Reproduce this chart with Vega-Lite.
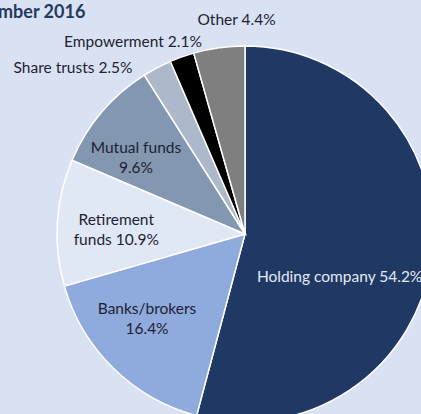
{
  "$schema": "https://vega.github.io/schema/vega-lite/v6.json",
  "width": 490,
  "height": 468,
  "autosize": {"type": "none"},
  "padding": 0,
  "background": "#d9e2f2",
  "config": {"view": {"stroke": null}, "font": "Lato"},
  "title": {"text": "mber 2016", "anchor": "start", "orient": "top", "frame": "group", "offset": 0, "dy": 36, "dx": -2, "baseline": "alphabetic", "font": "Lato", "fontSize": 18, "fontWeight": "bold", "color": "#23395f"},
  "data": {"values": [
    {"category": "Holding company", "value": 54.2, "rank": 1, "label": "Holding company 54.2%"},
    {"category": "Banks/brokers", "value": 16.4, "rank": 2, "label": "Banks/brokers\n16.4%"},
    {"category": "Retirement funds", "value": 10.9, "rank": 3, "label": "Retirement\nfunds 10.9%"},
    {"category": "Mutual funds", "value": 9.6, "rank": 4, "label": "Mutual funds\n9.6%"},
    {"category": "Share trusts", "value": 2.5, "rank": 5, "label": "Share trusts 2.5%"},
    {"category": "Empowerment", "value": 2.1, "rank": 6, "label": "Empowerment 2.1%"},
    {"category": "Other", "value": 4.4, "rank": 7, "label": "Other 4.4%"}
  ]},
  "encoding": {
    "theta": {"field": "value", "type": "quantitative", "stack": true},
    "order": {"field": "rank", "type": "quantitative"}
  },
  "layer": [
    {
      "mark": {"type": "arc", "outerRadius": 188, "stroke": "#ffffff", "strokeWidth": 1.5},
      "encoding": {
        "color": {"field": "category", "type": "nominal", "legend": null,
          "scale": {"domain": ["Holding company", "Banks/brokers", "Retirement funds", "Mutual funds", "Share trusts", "Empowerment", "Other"],
                    "range": ["#1f3864", "#8faadc", "#e1e8f5", "#8497b0", "#adb9ca", "#000000", "#7f7f7f"]}}
      }
    },
    {
      "mark": {"type": "text", "radius": 130, "fontSize": 15.5, "lineBreak": "\n", "lineHeight": 20, "color": "#1e2233", "align": "center", "baseline": "middle", "dx": -7, "dy": -18},
      "encoding": {"text": {"condition": {"test": "datum.rank == 2", "field": "label"}, "value": ""}}
    },
    {
      "mark": {"type": "text", "radius": 130, "fontSize": 15.5, "lineBreak": "\n", "lineHeight": 20, "color": "#1e2233", "align": "center", "baseline": "middle", "dx": 1, "dy": -6},
      "encoding": {"text": {"condition": {"test": "datum.rank == 3", "field": "label"}, "value": ""}}
    },
    {
      "mark": {"type": "text", "radius": 130, "fontSize": 15.5, "lineBreak": "\n", "lineHeight": 20, "color": "#1e2233", "align": "center", "baseline": "middle", "dx": -10, "dy": -2},
      "encoding": {"text": {"condition": {"test": "datum.rank == 4", "field": "label"}, "value": ""}}
    },
    {
      "mark": {"type": "text", "radius": 12, "fontSize": 15.5, "color": "#e4eaf4", "align": "left", "baseline": "middle", "dy": 41},
      "encoding": {"text": {"condition": {"test": "datum.rank == 1", "field": "label"}, "value": ""}}
    },
    {
      "mark": {"type": "text", "radius": 214, "fontSize": 15.5, "color": "#1e2233", "align": "center", "baseline": "middle", "dx": 21, "dy": -2},
      "encoding": {"text": {"condition": {"test": "datum.rank == 7", "field": "label"}, "value": ""}}
    },
    {
      "mark": {"type": "text", "radius": 200, "fontSize": 15.5, "color": "#1e2233", "align": "right", "baseline": "middle", "dx": 24, "dy": -4},
      "encoding": {"text": {"condition": {"test": "datum.rank == 6", "field": "label"}, "value": ""}}
    },
    {
      "mark": {"type": "text", "radius": 200, "fontSize": 15.5, "color": "#1e2233", "align": "right", "baseline": "middle", "dx": -19, "dy": 11},
      "encoding": {"text": {"condition": {"test": "datum.rank == 5", "field": "label"}, "value": ""}}
    }
  ]
}
